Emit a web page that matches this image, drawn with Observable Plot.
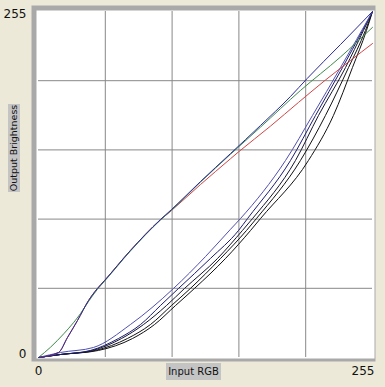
<!DOCTYPE html>
<html>
<head>
<meta charset="utf-8">
<script src="https://cdn.jsdelivr.net/npm/d3@7"></script>
<script src="https://cdn.jsdelivr.net/npm/@observablehq/plot@0.6"></script>
<style>
  html, body { margin: 0; padding: 0; background: #ECE9D8; }
  #wrap { position: relative; width: 385px; height: 387px; overflow: hidden; }
  .lbl { position: absolute; background: #c4c4c4; color: #111; font: 10px "DejaVu Sans", sans-serif; text-align: center; white-space: nowrap; }
</style>
</head>
<body>
<div id="wrap"></div>
<script>
// Tick labels and grid positions (input / output levels 0..255)
const axisTicks = [0, 255];
const gridTicks = [51, 102, 153, 204];
const xTitle = "Input RGB";
const yTitle = "Output Brightness";

// Upper curves: [input, output]
const upperBlue = [[0,0],[15.3,3.7],[22.1,14.7],[29.8,27.3],[38.2,42.0],[45.0,50.9],[50.4,56.7],[70.2,78.9],[93.1,101.7],[101.5,109.0],[123.7,129.7],[146.6,150.3],[169.5,171.0],[192.4,192.4],[205.1,205.6],[230.6,230.7],[255,255]];
const upperGreen = [[0,0],[9.2,7.6],[19.3,17.5],[27.0,26.0],[32.1,32.4],[38.2,41.3],[45.0,50.3],[50.4,56.2],[70.2,78.5],[93.1,101.3],[101.5,108.5],[123.7,129.3],[146.6,149.8],[169.5,169.8],[200.0,196.8],[230.6,221.5],[255,243.3]];
const upperRed = [[0,0],[15.3,3.7],[22.1,14.7],[29.8,27.3],[38.2,42.0],[45.0,50.9],[50.4,56.7],[70.2,78.9],[93.1,101.5],[101.5,108.3],[123.7,127.5],[146.6,146.5],[152.7,151.5],[177.1,170.5],[198.5,188.0],[219.1,204.5],[238.2,218.9],[255,231.4]];

// Lower curves
const lowerBlue = [[0,0],[16.8,3.7],[42.0,7.4],[70.2,24.3],[103.1,50.9],[127.5,74.4],[146.6,94.5],[154.2,102.4],[188.6,145.2],[209.2,178.4],[230.6,213.7],[255,255]];
const lowerNavy = [[0,0],[16.8,2.2],[39.7,5.2],[61.1,14.0],[77.9,24.3],[93.1,38.3],[106.9,50.9],[131.3,73.0],[152.7,93.6],[159.6,102.4],[192.4,145.2],[211.5,178.4],[232.1,213.7],[247.4,241.0],[255,255]];
const lowerBlack1 = [[0,0],[16.8,2.2],[41.2,5.2],[63.4,14.0],[80.2,24.3],[97.7,38.3],[111.5,50.9],[136.7,73.0],[155.7,93.6],[163.4,102.4],[196.2,145.2],[213.8,178.4],[234.4,213.7],[248.1,241.0],[255,255]];
const lowerBlack2 = [[0,0],[16.8,2.2],[43.5,5.2],[67.9,14.0],[85.5,24.3],[101.5,38.3],[116.0,50.9],[139.0,73.0],[158.8,93.6],[166.4,102.4],[200.0,145.2],[219.1,178.4],[236.7,213.7],[249.6,241.0],[255,255]];
const lowerBlack3 = [[0,0],[16.8,2.2],[45.8,5.2],[71.8,14.0],[88.6,24.3],[104.6,38.3],[119.1,50.9],[142.8,73.0],[161.9,93.6],[169.5,102.4],[206.1,145.2],[225.2,178.4],[239.7,213.7],[250.4,241.0],[255,255]];

const series = [
  {pts: lowerBlack3, color: "#111111"},
  {pts: lowerBlack2, color: "#111111"},
  {pts: lowerBlack1, color: "#151530"},
  {pts: lowerNavy, color: "#1c1c70"},
  {pts: lowerBlue, color: "#5050b0"},
  {pts: upperRed, color: "#d04545"},
  {pts: upperGreen, color: "#3f8a4a"},
  {pts: upperBlue, color: "#2a2a9a"}
];

const font = "DejaVu Sans, sans-serif";

const chart = Plot.plot({
  width: 385,
  height: 387,
  marginLeft: 38,
  marginRight: 13,
  marginTop: 11,
  marginBottom: 30,
  style: {background: "#ECE9D8", fontFamily: font, fontSize: "12px", color: "#111"},
  x: {domain: [0, 255]},
  y: {domain: [0, 255]},
  marks: [
    Plot.frame({fill: "#a9a9a9", stroke: null, insetLeft: -7, insetTop: -6, insetRight: -3, insetBottom: -4}),
    Plot.frame({fill: "#ffffff", stroke: null, insetLeft: -2, insetTop: -1, insetRight: -2, insetBottom: -1}),
    Plot.gridX(gridTicks, {stroke: "#888", strokeOpacity: 1, strokeWidth: 1}),
    Plot.gridY(gridTicks, {stroke: "#888", strokeOpacity: 1, strokeWidth: 1}),
    Plot.axisY([axisTicks[1]], {tickSize: 0, tickPadding: 12, fontSize: 12, dy: 3, label: null, fill: "#111"}),
    Plot.axisY([axisTicks[0]], {tickSize: 0, tickPadding: 12, fontSize: 12, dy: -3, label: null, fill: "#111"}),
    Plot.axisX([axisTicks[0]], {tickSize: 0, tickPadding: 9, fontSize: 12, label: null, fill: "#111"}),
    Plot.axisX([axisTicks[1]], {tickSize: 0, tickPadding: 9, fontSize: 12, textAnchor: "end", dx: 2, label: null, fill: "#111"}),
    ...series.map(s => Plot.line(s.pts, {x: d => d[0], y: d => d[1], stroke: s.color, strokeWidth: 1, curve: "monotone-x"}))
  ]
});

const wrap = document.getElementById("wrap");
wrap.appendChild(chart);

const xl = document.createElement("div");
xl.className = "lbl";
xl.textContent = xTitle;
Object.assign(xl.style, {left: "166px", top: "363px", width: "55px", height: "17px", lineHeight: "17px"});
wrap.appendChild(xl);

const yl = document.createElement("div");
yl.className = "lbl";
yl.textContent = yTitle;
Object.assign(yl.style, {left: (14 - 44) + "px", top: (148 - 6) + "px", width: "88px", height: "12px", lineHeight: "12px", fontSize: "9.5px", transform: "rotate(-90deg)"});
wrap.appendChild(yl);
</script>
</body>
</html>
